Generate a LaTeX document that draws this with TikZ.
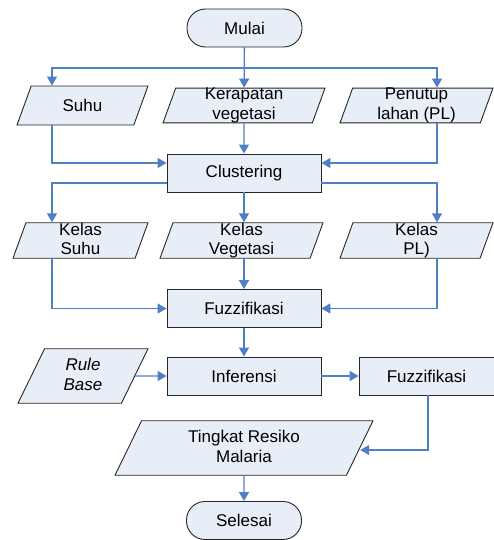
\documentclass[tikz,border=0pt]{standalone}
\usepackage{fontspec}
\setmainfont{Liberation Sans}
\usetikzlibrary{arrows.meta,shapes.geometric}
\definecolor{isian}{HTML}{E8EEF7}
\definecolor{garis}{HTML}{4F7FC4}
\newcommand\tegak{\rule[-3.65pt]{0pt}{19.5pt}}
\begin{document}
\begin{tikzpicture}[
       x=1pt,y=-1pt,
       font=\fontsize{17}{19.5}\selectfont,
       proses/.style={
         rectangle,
         draw=black!85,
         fill=isian,
         line width=0.9pt,
         inner sep=0pt,
         minimum width=154pt,
         minimum height=38pt
       },
       datain/.style={
         trapezium,
         trapezium left angle=70,
         trapezium right angle=110,
         trapezium stretches body=true,
         draw=black!85,
         fill=isian,
         line width=0.9pt,
         inner xsep=0pt,
         inner ysep=0pt,
         align=center,
         execute at begin node=\tegak,
         execute at end node=\tegak
       },
       terminal/.style={
         rectangle,
         rounded corners=18.5pt,
         draw=black!85,
         fill=isian,
         line width=0.9pt,
         minimum width=115pt,
         minimum height=38pt
       },
       alur/.style={
         draw=garis,
         line width=1.3pt,
         -{Triangle[length=9pt,width=10pt]}
       }
     ]

       \useasboundingbox (0,0) rectangle (494,540);

       \node (mulai) at (244.5,28) [terminal]{Mulai};
       \node (suhu) at (82.5,105.5) [datain,inner ysep=9.75pt,minimum width=131pt]{Suhu};
       \node (kerapatan) at (244,105.5) [datain,minimum width=162pt]{Kerapatan\\vegetasi};
       \node (penutup) at (416.5,105.5) [datain,minimum width=153pt]{Penutup\\lahan (PL)};
       \node (clustering) at (244,173) [proses]{Clustering};

       \node (ksuhu) at (80.5,240.5) [datain,minimum width=135pt]{Kelas\\Suhu};
       \node (kveg) at (241.5,240.5) [datain,minimum width=163pt]{Kelas\\Vegetasi};
       \node (kpl) at (416.5,240.5) [datain,minimum width=153pt]{Kelas\\PL)};
       \node (fuzzi) at (244,308.5) [proses]{Fuzzifikasi};

       \node (rule) at (83,376) [datain,trapezium left angle=64,trapezium right angle=116,inner ysep=9.5pt,minimum width=130pt]{\itshape Rule\\\itshape Base};
       \node (inferensi) at (244,376) [proses]{Inferensi};
       \node (fuzzo) at (426.5,376) [proses,minimum width=135pt]{Fuzzifikasi};
       \node (tingkat) at (244,448) [datain,trapezium left angle=64,trapezium right angle=116,inner ysep=9.5pt,minimum width=258pt]{Tingkat Resiko\\Malaria};
       \node (selesai) at (244,520.5) [terminal]{Selesai};

       \coordinate (kiri) at (52,68);
       \coordinate (kanan) at (437,68);

       \draw[alur] (mulai) -- (kerapatan);
       \draw[alur] (mulai.south) |- (kiri) -- (kiri |- suhu.north);
       \draw[alur] (mulai.south) |- (kanan) -- (kanan |- penutup.north);

       \draw[alur] (kerapatan) -- (clustering);
       \draw[alur] (kiri |- suhu.south) |- ([yshift=10pt]clustering.west);
       \draw[alur] (kanan |- penutup.south) |- ([yshift=10pt]clustering.east);

       \draw[alur] ([yshift=-10pt]clustering.west) -| (kiri |- ksuhu.north);
       \draw[alur] (clustering) -- (clustering |- kveg.north);
       \draw[alur] ([yshift=-10pt]clustering.east) -| (kanan |- kpl.north);

       \draw[alur] (kiri |- ksuhu.south) |- (fuzzi.west);
       \draw[alur] (clustering |- kveg.south) -- (fuzzi);
       \draw[alur] (kanan |- kpl.south) |- (fuzzi.east);

       \draw[alur] (fuzzi) -- (inferensi);
       \draw[alur] (rule) -- (inferensi);
       \draw[alur] (inferensi) -- (fuzzo);
       \draw[alur] ([xshift=1.5pt]fuzzo.south) |- ([yshift=-2pt]tingkat.east);
       \draw[alur] (tingkat) -- (selesai);

\end{tikzpicture}
\end{document}
